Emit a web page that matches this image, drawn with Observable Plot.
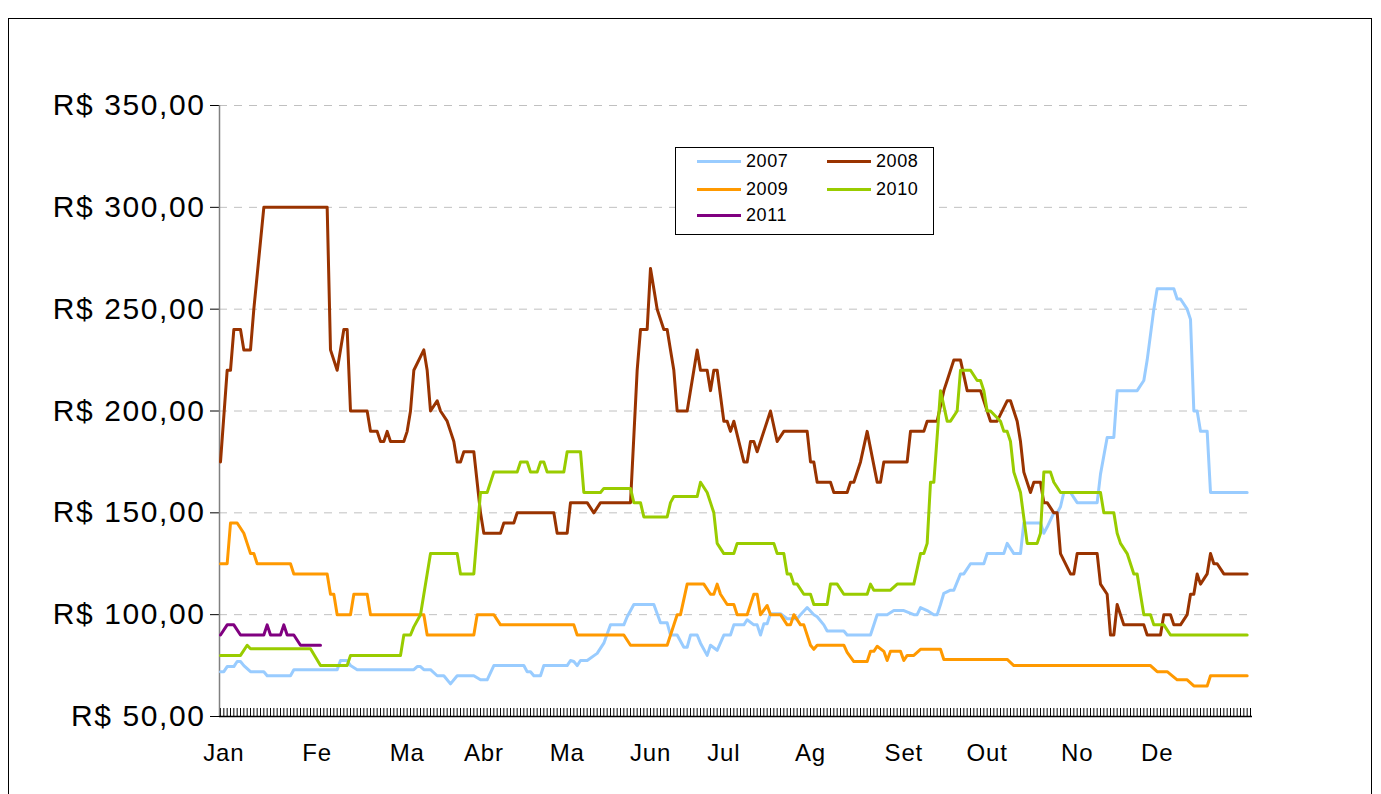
<!DOCTYPE html>
<html>
<head>
<meta charset="utf-8">
<script src="https://cdn.jsdelivr.net/npm/d3@7"></script>
<script src="https://cdn.jsdelivr.net/npm/@observablehq/plot@0.6"></script>
<style>
  html, body { margin: 0; padding: 0; background: #fff; }
  #wrap { position: relative; width: 1381px; height: 794px; overflow: hidden; font-family: "Liberation Sans", Arial, sans-serif; }
  #border { position: absolute; left: 8px; top: 18px; width: 1364px; height: 820px; border: 1px solid #000; box-sizing: border-box; }
  #chart { position: absolute; left: 0; top: 0; }
  #legend { position: absolute; left: 675px; top: 147px; width: 259px; height: 88px; border: 1px solid #000; box-sizing: border-box; background: #fff; }
  .item { position: absolute; height: 20px; font-size: 18px; line-height: 20px; color: #000; letter-spacing: 0.6px; }
  .sw { position: absolute; top: 9px; width: 44px; height: 3px; }
  .lbl { position: absolute; top: 0; }
  #chart g[aria-label="y-axis tick label"] text { letter-spacing: 1.6px; }
  #chart g[aria-label="x-axis tick label"] text { letter-spacing: 0.8px; }
</style>
</head>
<body>
<div id="wrap">
  <div id="border"></div>
  <div id="chart"></div>
  <div id="legend"></div>
</div>
<script>
// ---- data ----
const years = ["2007", "2008", "2009", "2010", "2011"];
const colors = ["#99CCFF", "#993300", "#FF9900", "#99CC00", "#800080"];

// observation index (category) , price in R$
const s2007 = [[0,72],[1,72],[2,74.5],[4,74.5],[5,77],[6,77],[7,75],[9,72],[13,72],[14,70],[21,70],[22,73],[35,73],[36,77.5],[38,77.5],[39,75],[41,73],[58,73],[59,74.5],[60,74.5],[61,73],[63,73],[65,70],[67,70],[69,66],[71,70],[76,70],[78,68],[80,68],[82,75],[91,75],[92,72],[93,72],[94,70],[96,70],[97,75],[104,75],[105,77.5],[106,77],[107,75],[108,77.5],[110,77.5],[113,81],[115,86],[117,95],[121,95],[122,99],[124,105],[130,105],[132,96],[134,96],[135,90],[137,90],[139,84],[140,84],[141,90],[143,90],[144,86],[146,80],[147,85],[149,82.5],[151,90],[153,90],[154,95],[157,95],[158,97.5],[160,95],[161,95],[162,90],[163,95.5],[164,95.5],[165,100.5],[168,100.5],[170,98],[173,98],[174,100],[176,103.5],[178,100],[179,99],[181,95],[182,92],[187,92],[188,90],[195,90],[197,100],[200,100],[202,102],[205,102],[208,100],[209,100],[210,103.5],[212,102],[214,100],[215,100],[216,105],[217,110.5],[219,112],[220,112],[222,120],[223,120],[225,125],[229,125],[230,130],[235,130],[236,135],[238,130],[240,130],[241,145],[246,145],[247,140],[248,143],[250,150],[251,150],[252,153],[253,160],[255,160],[257,155],[263,155],[264,169],[266,187],[268,187],[269,210],[275,210],[277,215],[278,225],[280,250],[281,260],[286,260],[287,255],[288,255],[290,250],[291,245],[292,200],[293,200],[294,190],[296,190],[297,160],[308,160]];

const s2008 = [[0,175],[2,220],[3,220],[4,240],[6,240],[7,230],[9,230],[10,250],[13,300],[32,300],[33,230],[35,220],[37,240],[38,240],[39,200],[44,200],[45,190],[47,190],[48,185],[49,185],[50,190],[51,185],[55,185],[56,190],[57,200],[58,220],[61,230],[62,220],[63,200],[65,205],[66,200],[68,195],[69,190],[70,185],[71,175],[72,175],[73,180],[76,180],[78,150],[79,140],[84,140],[85,145],[88,145],[89,150],[100,150],[101,140],[104,140],[105,155],[110,155],[112,150],[114,155],[123,155],[125,220],[126,240],[128,240],[129,270],[130,260],[131,250],[133,240],[134,240],[135,230],[136,220],[137,200],[140,200],[142,220],[143,230],[144,220],[146,220],[147,210],[148,220],[149,220],[151,195],[152,195],[153,190],[154,195],[157,175],[158,175],[159,185],[160,185],[161,180],[165,200],[167,185],[169,190],[176,190],[177,175],[178,175],[179,165],[183,165],[184,160],[188,160],[189,165],[190,165],[192,175],[194,190],[197,165],[198,165],[199,175],[206,175],[207,190],[211,190],[212,195],[215,195],[217,210],[218,215],[220,225],[222,225],[224,210],[228,210],[230,200],[231,195],[233,195],[236,205],[237,205],[239,195],[240,185],[241,170],[243,160],[244,165],[246,165],[247,155],[248,155],[250,150],[251,150],[252,130],[255,120],[256,120],[257,130],[263,130],[264,115],[266,110],[267,90],[268,90],[269,105],[270,100],[271,95],[277,95],[278,90],[282,90],[283,100],[285,100],[286,95],[288,95],[290,100],[291,110],[292,110],[293,120],[294,115],[296,120],[297,130],[298,125],[299,125],[301,120],[308,120]];

const s2009 = [[0,125],[2,125],[3,145],[5,145],[7,140],[8,135],[9,130],[10,130],[11,125],[21,125],[22,120],[32,120],[33,110],[34,110],[35,100],[39,100],[40,110],[44,110],[45,100],[61,100],[62,90],[76,90],[77,100],[82,100],[84,95],[106,95],[107,90],[121,90],[123,85],[134,85],[137,100],[138,100],[140,115],[145,115],[147,110],[148,110],[149,115],[150,110],[152,105],[154,105],[155,100],[158,100],[160,110],[161,110],[162,100],[164,104.5],[165,100],[168,100],[170,95],[171,95],[172,100],[174,95],[175,95],[177,85],[178,83],[179,85],[187,85],[188,81.5],[190,77],[194,77],[195,82],[196,82],[197,84.5],[199,82],[200,77.5],[201,82],[204,82],[205,77.5],[206,80],[208,80],[210,83],[216,83],[217,78],[236,78],[238,75],[279,75],[281,72],[284,72],[287,68],[290,68],[292,65],[296,65],[297,70],[308,70]];

const s2010 = [[0,80],[6,80],[8,85],[9,83.3],[27,83.3],[30,75],[38,75],[39,80],[54,80],[55,90],[57,90],[58,94],[60,100],[63,130],[71,130],[72,120],[76,120],[78,160],[80,160],[82,170],[89,170],[90,175],[92,175],[93,170],[95,170],[96,175],[97,175],[98,170],[103,170],[104,180],[108,180],[109,160],[114,160],[115,162],[123,162],[124,155],[126,155],[127,148],[134,148],[135,155],[136,158],[143,158],[144,165],[146,160],[147,155],[148,150],[149,135],[151,130],[154,130],[155,135],[166,135],[167,130],[169,130],[170,120],[171,120],[172,115],[173,115],[175,110],[177,110],[178,105],[182,105],[183,115],[185,115],[187,110],[194,110],[195,115],[196,112],[201,112],[203,115],[208,115],[210,130],[211,130],[212,135],[213,165],[214,165],[216,210],[218,195],[219,195],[221,200],[222,220],[225,220],[227,215],[228,215],[229,210],[230,200],[231,200],[234,195],[235,190],[236,190],[237,185],[238,170],[240,160],[242,135],[245,135],[246,140],[247,170],[249,170],[250,165],[252,160],[264,160],[265,150],[268,150],[269,140],[270,135],[272,130],[274,120],[275,120],[277,100],[279,100],[280,95],[283,95],[285,90],[308,90]];

const s2011 = [[0,90],[2,95],[4,95],[6,90],[13,90],[14,95],[15,90],[18,90],[19,95],[20,90],[22,90],[24,85],[30,85]];

const monthNames = ["Jan","Fe","Ma","Abr","Ma","Jun","Jul","Ag","Set","Out","No","De"];
const monthIdx   = [1, 29, 56, 79, 104, 129, 151, 177, 205, 230, 257, 281];
const yTicks = [50, 100, 150, 200, 250, 300, 350];
const gridTicks = [100, 150, 200, 250, 300, 350];
const categoryCount = 310;

// ---- build ----
const seriesList = [s2007, s2008, s2009, s2010, s2011];
const rows = [];
seriesList.forEach((s, k) => s.forEach(([i, v]) => rows.push({year: years[k], i, v})));
const catIdx = d3.range(0, categoryCount);
const xDomain = [-0.3, categoryCount - 0.4];
const monthMap = new Map(monthIdx.map((d, k) => [d, monthNames[k]]));
const fmt = d => "R$ " + d.toFixed(2).replace(".", ",");

const chart = Plot.plot({
  width: 1381,
  height: 794,
  marginLeft: 219,
  marginRight: 129,
  marginTop: 105,
  marginBottom: 78,
  style: {fontFamily: "'Liberation Sans', Arial, sans-serif", background: "transparent", color: "#000"},
  x: {domain: xDomain},
  y: {domain: [50, 350]},
  color: {domain: years, range: colors},
  marks: [
    Plot.gridY(gridTicks, {stroke: "#c0c0c0", strokeOpacity: 1, strokeDasharray: "8,7", strokeWidth: 1}),
    Plot.axisY(yTicks, {tickFormat: fmt, tickSize: 9, tickPadding: 5, fontSize: 30, label: null, stroke: "#000"}),
    Plot.axisX(monthIdx, {tickFormat: d => monthMap.get(d), tickSize: 0, tickPadding: 27, fontSize: 24, label: null}),
    Plot.ruleX(catIdx, {x: d => d, insetTop: 603, stroke: "#000", strokeWidth: 1}),
    Plot.ruleX([xDomain[0]], {stroke: "#808080", strokeWidth: 1.5}),
    Plot.ruleY([50], {stroke: "#000", strokeWidth: 1.5}),
    Plot.line(rows, {x: "i", y: "v", z: "year", stroke: "year", strokeWidth: 3, strokeLinejoin: "round"})
  ]
});
document.getElementById("chart").appendChild(chart);

// ---- legend ----
const legend = document.getElementById("legend");
const pos = [[21, 3], [151, 3], [21, 31], [151, 31], [21, 57]];
years.forEach((y, k) => {
  const it = document.createElement("div");
  it.className = "item";
  it.style.left = pos[k][0] + "px";
  it.style.top = pos[k][1] + "px";
  it.innerHTML = `<div class="sw" style="left:0;background:${colors[k]}"></div><span class="lbl" style="left:49px">${y}</span>`;
  legend.appendChild(it);
});
</script>
</body>
</html>
